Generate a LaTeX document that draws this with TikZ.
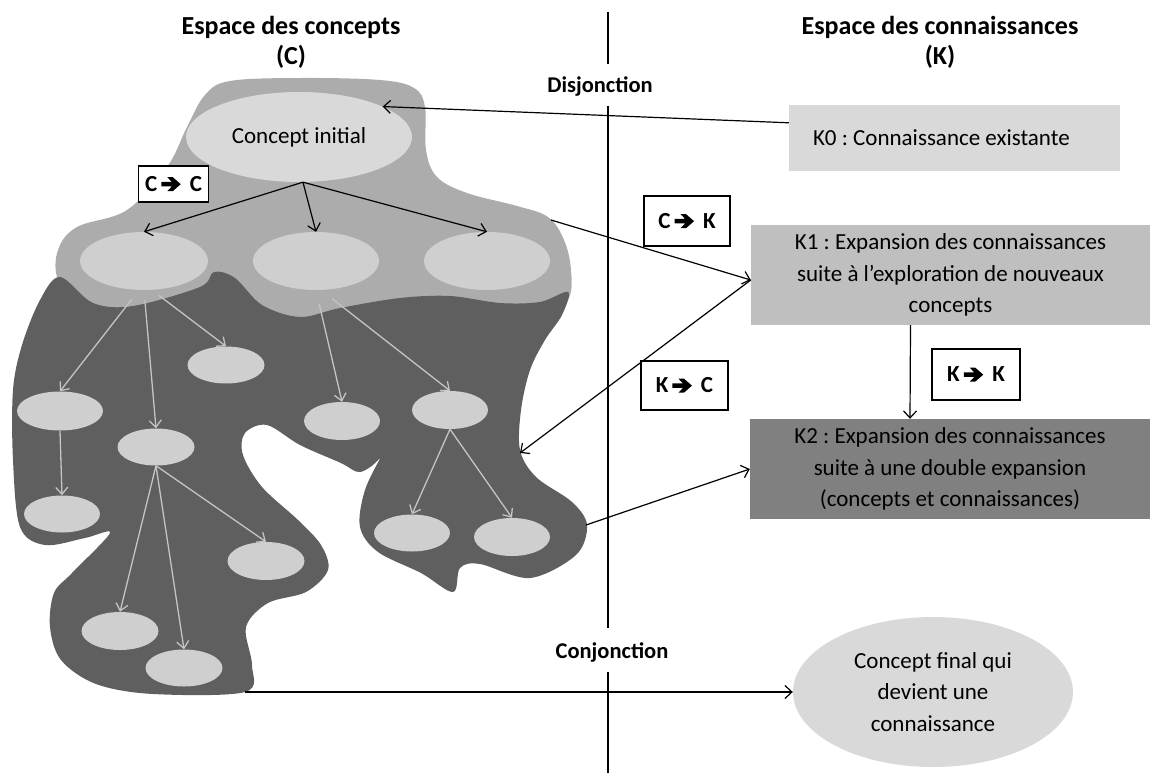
\documentclass[tikz,border=0pt]{standalone}
\usepackage{fontspec}
\setmainfont{Carlito}
\usetikzlibrary{shapes.geometric,arrows.meta,calc}
\definecolor{lightblob}{HTML}{ACACAC}
\definecolor{darkblob}{HTML}{5F5F5F}
\definecolor{ellfill}{HTML}{CFCFCF}
\definecolor{cifill}{HTML}{D9D9D9}
\definecolor{kzero}{HTML}{D9D9D9}
\definecolor{kone}{HTML}{BFBFBF}
\definecolor{ktwo}{HTML}{808080}
\definecolor{innerarrow}{HTML}{C4C4C4}
\newcommand{\oparrow}{\tikz[x=1pt,y=1pt,baseline=0pt]\fill[black] (0,5.0) -- (10.5,5.0) -- (6,0.3) -- (11.5,0.3) -- (19.5,7.3) -- (11.5,14.3) -- (6,14.3) -- (10.5,9.6) -- (0,9.6) -- cycle;}
\newcommand{\opsym}[2]{#1\hspace{4pt}\oparrow\hspace{9pt}#2}
\begin{document}
\begin{tikzpicture}[x=1pt,y=-1pt,
  title/.style={font=\bfseries\fontsize{26}{30}\selectfont, align=center, inner sep=0},
  junction/.style={font=\bfseries\fontsize{22.5}{26}\selectfont, inner sep=0},
  txt/.style={font=\frenchspacing\fontsize{23}{31.5}\selectfont, align=center},
  ell/.style={ellipse, fill=ellfill, draw=none, inner sep=0},
  opbox/.style={draw=black, line width=1.6pt, fill=white, inner sep=0,
    font=\bfseries\fontsize{23}{26}\selectfont},
  kbox/.style={rectangle, draw=none, txt, inner sep=0},
  arr/.style={-{Straight Barb[length=7pt,width=13pt]}, line width=1.2pt, black},
  garr/.style={-{Straight Barb[length=7pt,width=12pt]}, line width=1.3pt, innerarrow},
  divider/.style={line width=1.1pt, black}
]
\useasboundingbox (0,0) rectangle (1150,773);

% light blob (upper part of the concept space)
\fill[lightblob] plot[smooth cycle, tension=0.6] coordinates {
  (230,81) (300,78) (380,80) (414,88) (425,107) (426,150) (437,177)
  (467,193) (517,206) (548,217) (564,240) (571,270) (568,300) (540,330)
  (450,335) (300,335) (150,325) (80,305) (58,280) (58,250) (77,227)
  (127,210) (167,167) (187,127) (205,95)};

% dark blob (lower part of the concept space)
\fill[darkblob] plot[smooth cycle, tension=0.55] coordinates {
  (60,277) (93,303) (133,306) (200,287) (214,272) (235,278) (262,305)
  (300,317) (340,308) (400,298) (450,296) (500,303) (540,302) (568,292)
  (562,315) (545,340) (530,370) (521,410) (520,450) (536,477) (572,502)
  (587,525) (576,555) (530,578) (480,564) (460,568) (453,592) (421,573)
  (378,552) (360,527) (365,490) (383,453) (394,432) (380,458) (360,472)
  (341,463) (300,445) (267,425) (245,433) (243,455) (262,487) (298,520)
  (321,545) (328,570) (306,592) (268,603) (246,627) (252,665) (245,692)
  (153,694) (96,684) (61,660) (50,627) (54,593) (72,573) (110,533)
  (85,538) (45,545) (20,527) (13,460) (13,390) (22,345) (40,300)};

% concept nodes
\node[ell, fill=cifill, minimum width=226, minimum height=90, txt] (ci) at (299,137) {Concept initial};
\node[ell, minimum width=128, minimum height=58] (L) at (144,261) {};
\node[ell, minimum width=126, minimum height=58] (M) at (316,261) {};
\node[ell, minimum width=126, minimum height=58] (R) at (487,261) {};
\node[ell, minimum width=77, minimum height=37] (e1) at (226,365) {};
\node[ell, minimum width=86, minimum height=39] (e2) at (60,411) {};
\node[ell, minimum width=77, minimum height=37] (e3) at (156,447) {};
\node[ell, minimum width=76, minimum height=38] (e4) at (342,421) {};
\node[ell, minimum width=76, minimum height=38] (e5) at (450,410) {};
\node[ell, minimum width=76, minimum height=37] (e6) at (62,514) {};
\node[ell, minimum width=77, minimum height=38] (e7) at (266,561) {};
\node[ell, minimum width=76, minimum height=37] (e8) at (412,533) {};
\node[ell, minimum width=76, minimum height=38] (e9) at (512,537) {};
\node[ell, minimum width=77, minimum height=38] (e10) at (120,631) {};
\node[ell, minimum width=77, minimum height=37] (e11) at (184,668) {};

% inner (light) arrows
\draw[garr, shorten <=12pt] (L.-100) -- (e2.north);
\draw[garr, shorten <=10pt] (L.south) -- (e3.north);
\draw[garr, shorten <=9pt] (L.-75) -- (e1.north);
\draw[garr, shorten <=14pt] (M.south) -- (e4.north);
\draw[garr, shorten <=14pt] (M.-80) -- (e5.north);
\draw[garr] (e2.south) -- (e6.north);
\draw[garr] (e3.south) -- (e10.north);
\draw[garr] (e3.south) -- (e11.north);
\draw[garr] (e3.south) -- (e7.north);
\draw[garr] (e5.south) -- (e8.north);
\draw[garr] (e5.south) -- (e9.north);

% C -> C arrows
\draw[arr] (ci.-85) -- (L.north);
\draw[arr] (ci.-85) -- (M.north);
\draw[arr] (ci.-85) -- (R.north);

% titles and junction labels
\node[title] (tc) at (291,42) {Espace des concepts\\(C)};
\node[title] (tk) at (940,42) {Espace des connaissances\\(K)};
\node[junction] (dis) at (600,86) {Disjonction};
\node[junction] (con) at (612,652) {Conjonction};

% divider
\coordinate (d1a) at (608,12);
\coordinate (d1b) at (608,64);
\coordinate (d2a) at (608,106);
\coordinate (d2b) at (608,628);
\coordinate (d3a) at (608,672);
\coordinate (d3b) at (608,773);
\draw[divider] (d1a) -- (d1b);
\draw[divider] (d2a) -- (d2b);
\draw[divider] (d3a) -- (d3b);

% knowledge boxes
\node[kbox, fill=kzero, text width=283, inner xsep=24, minimum height=66, align=flush left] (k0) at (954.5,138) {K0 : Connaissance existante};
\node[kbox, fill=kone, minimum width=399, minimum height=100] (k1) at (950.5,275)
  {K1 : Expansion des connaissances\\suite à l’exploration de nouveaux\\concepts};
\node[kbox, fill=ktwo, minimum width=400, minimum height=100] (k2) at (950,469)
  {K2 : Expansion des connaissances\\suite à une double expansion\\(concepts et connaissances)};
\node[ell, fill=cifill, minimum width=280, minimum height=150, txt] (cf) at (933,692)
  {Concept final qui\\devient une\\connaissance};

% operator boxes
\node[opbox, minimum width=70, minimum height=36] (bcc) at (173.5,184) {\opsym{C}{C}};
\node[opbox, minimum width=86, minimum height=50] (bck) at (687,221) {\opsym{C}{K}};
\node[opbox, minimum width=87, minimum height=49] (bkc) at (684.5,385.5) {\opsym{K}{C}};
\node[opbox, minimum width=88, minimum height=51] (bkk) at (976,374.5) {\opsym{K}{K}};

% connectors between spaces
\coordinate (k0out) at ($(k0.north west)+(0,18)$);
\coordinate (k1in) at ($(k1.west)+(0,5)$);
\coordinate (lbR) at (551,220);
\coordinate (dbR) at (520,453);
\coordinate (dbK) at (586,525);
\coordinate (dbBot) at (245,692);
\coordinate (k1s) at ($(k1.south)+(-40,0)$);
\coordinate (k2n) at ($(k2.north)+(-40,0)$);
\draw[arr] (k0out) -- (ci.20);
\draw[arr] (lbR) -- (k1in);
\draw[arr] (k1in) -- (dbR);
\draw[arr] (dbK) -- (k2.west);
\draw[arr] (k1s) -- (k2n);
\draw[arr] (dbBot) -- (cf.west);
\end{tikzpicture}
\end{document}
